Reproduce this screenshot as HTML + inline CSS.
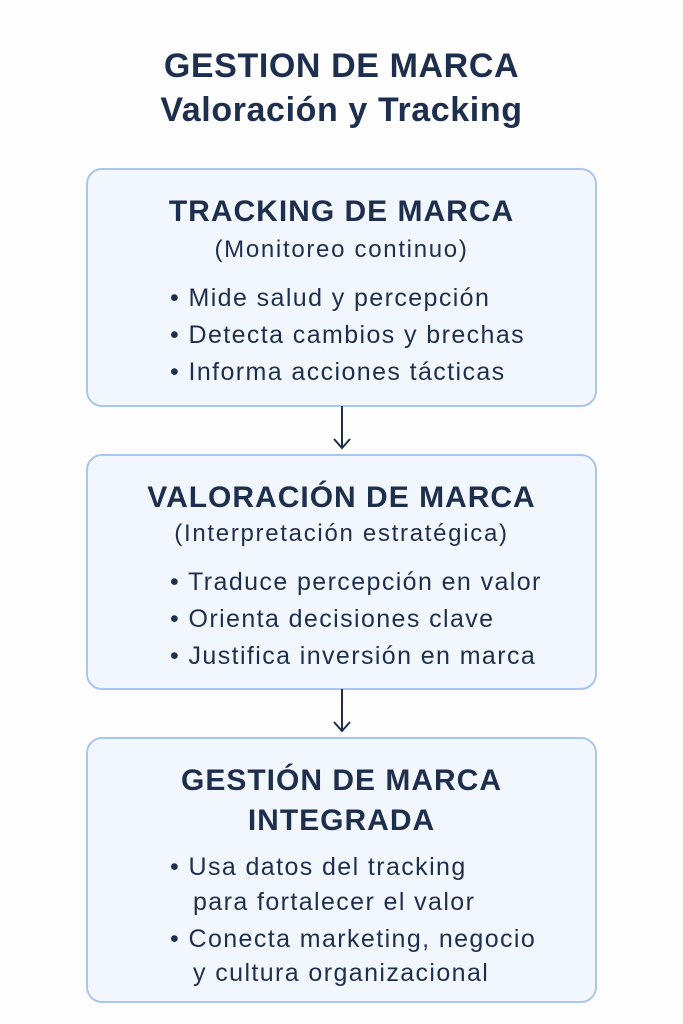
<!DOCTYPE html>
<html><head><meta charset="utf-8"><style>
body{margin:0;width:683px;height:1024px;background:#fdfdfe;font-family:"Liberation Sans",sans-serif;color:#1e2f4d;position:relative;overflow:hidden}
.t{position:absolute;left:0;width:683px;text-align:center;font-weight:bold;font-size:34px;letter-spacing:0.6px}
.box{position:absolute;left:86px;width:507px;border:2px solid #aac6ee;border-radius:16px;background:#f2f6fd}
.h{position:absolute;left:0;width:100%;text-align:center;font-weight:bold;font-size:30px;letter-spacing:1px}
.s{position:absolute;left:0;width:100%;text-align:center;font-size:24px;letter-spacing:1.7px}
.l{position:absolute;font-size:25px;white-space:nowrap;letter-spacing:1.4px}
.arr{position:absolute;left:341px;width:2px;background:#1e2f4d}
</style></head><body>
<div class="t" style="top:47px">GESTION DE MARCA</div>
<div class="t" style="top:91px">Valoración y Tracking</div>

<div class="box" style="top:168px;height:235px">
<div class="h" style="top:25px">TRACKING DE MARCA</div>
<div class="s" style="top:66px">(Monitoreo continuo)</div>
<div class="l" style="left:82px;top:114px">• Mide salud y percepción</div>
<div class="l" style="left:82px;top:151px">• Detecta cambios y brechas</div>
<div class="l" style="left:82px;top:188px">• Informa acciones tácticas</div>
</div>
<div class="arr" style="top:406px;height:42px"></div>
<svg style="position:absolute;left:332px;top:436px" width="20" height="16"><path d="M2 3 L10 12 L18 3" fill="none" stroke="#1e2f4d" stroke-width="2"/></svg>

<div class="box" style="top:454px;height:232px">
<div class="h" style="top:25px">VALORACIÓN DE MARCA</div>
<div class="s" style="top:64px">(Interpretación estratégica)</div>
<div class="l" style="left:82px;top:112px">• Traduce percepción en valor</div>
<div class="l" style="left:82px;top:149px">• Orienta decisiones clave</div>
<div class="l" style="left:82px;top:186px">• Justifica inversión en marca</div>
</div>
<div class="arr" style="top:689px;height:42px"></div>
<svg style="position:absolute;left:332px;top:719px" width="20" height="16"><path d="M2 3 L10 12 L18 3" fill="none" stroke="#1e2f4d" stroke-width="2"/></svg>

<div class="box" style="top:737px;height:262px">
<div class="h" style="top:25px">GESTIÓN DE MARCA</div>
<div class="h" style="top:65px">INTEGRADA</div>
<div class="l" style="left:82px;top:114px">• Usa datos del tracking</div>
<div class="l" style="left:105px;top:149px">para fortalecer el valor</div>
<div class="l" style="left:82px;top:186px">• Conecta marketing, negocio</div>
<div class="l" style="left:105px;top:220px">y cultura organizacional</div>
</div>
</body></html>
